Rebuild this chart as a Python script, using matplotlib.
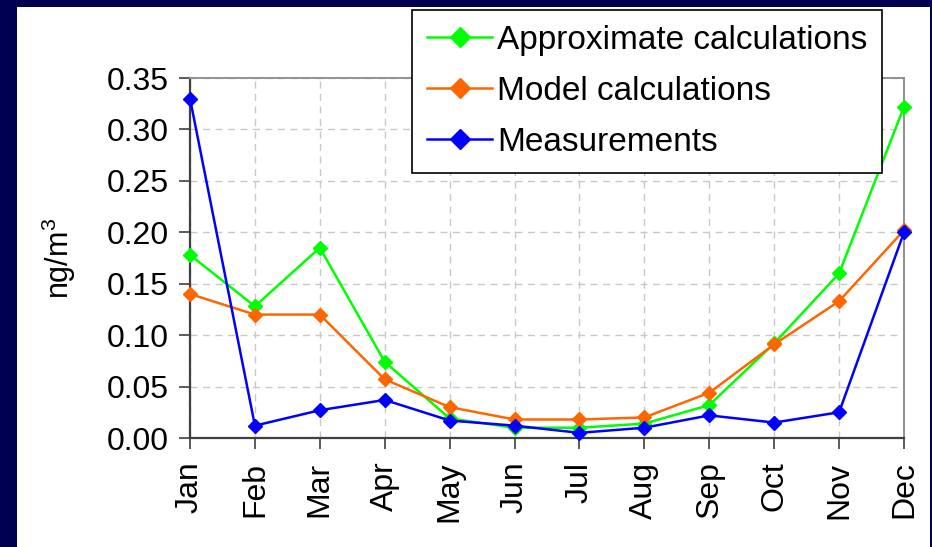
import matplotlib.pyplot as plt
from matplotlib.patches import Rectangle

months = ['Jan', 'Feb', 'Mar', 'Apr', 'May', 'Jun', 'Jul', 'Aug', 'Sep', 'Oct', 'Nov', 'Dec']
approx = [0.178, 0.128, 0.185, 0.074, 0.019, 0.010, 0.010, 0.014, 0.032, 0.092, 0.160, 0.322]
model = [0.140, 0.120, 0.120, 0.057, 0.030, 0.018, 0.018, 0.020, 0.044, 0.091, 0.133, 0.202]
measured = [0.330, 0.012, 0.027, 0.037, 0.017, 0.012, 0.005, 0.010, 0.022, 0.015, 0.025, 0.200]

plt.rcParams['font.family'] = ['Liberation Sans', 'DejaVu Sans']
plt.rcParams['mathtext.fontset'] = 'custom'
plt.rcParams['mathtext.rm'] = 'Liberation Sans'

fig = plt.figure(figsize=(9.32, 5.47), dpi=100, facecolor='#000050')
# white slide panel behind everything
fig.patches.append(Rectangle((17 / 932, 0), (930 - 17) / 932, 1 - 7 / 547,
                             transform=fig.transFigure, facecolor='white',
                             edgecolor='none', zorder=-10))

ax = fig.add_axes([190 / 932, 1 - 438 / 547, (904 - 190) / 932, (438 - 78) / 547])
ax.set_facecolor('white')

x = range(len(months))
ax.plot(x, approx, color='#00ff00', marker='D', markersize=7.5, lw=1.8,
        label='Approximate calculations', clip_on=False, zorder=3)
ax.plot(x, model, color='#ff6600', marker='D', markersize=7.5, lw=1.8,
        label='Model calculations', clip_on=False, zorder=4)
ax.plot(x, measured, color='#0000ff', marker='D', markersize=7.5, lw=1.8,
        label='Measurements', clip_on=False, zorder=5)

ax.set_xlim(0, 11)
ax.set_ylim(0, 0.35)
ax.set_yticks([i * 0.05 for i in range(8)])
ax.set_yticklabels([f'{i * 0.05:.2f}' for i in range(8)])
ax.set_xticks(list(x))
ax.set_xticklabels(months, rotation=90)
ax.tick_params(axis='both', labelsize=23, direction='out', length=8,
               width=1.2, color='#404040')
ax.tick_params(axis='y', pad=7)
ax.tick_params(axis='x', pad=9)
ax.grid(True, linestyle=(0, (5, 4)), color='#c8c8c8', lw=1)
ax.set_axisbelow(True)

for side in ['left', 'bottom']:
    ax.spines[side].set_color('#404040')
    ax.spines[side].set_linewidth(1.6)
for side in ['top', 'right']:
    ax.spines[side].set_color('#909090')
    ax.spines[side].set_linewidth(1.4)

ax.set_ylabel('ng/m$^3$', fontsize=22)
ax.yaxis.set_label_coords(-0.157, 0.5)

leg = fig.legend(loc='upper left', bbox_to_anchor=(412 / 932, 1 - 10 / 547),
                 fontsize=24, frameon=True, fancybox=False, handlelength=1.95,
                 borderpad=0.45, labelspacing=0.6, handletextpad=0.15,
                 borderaxespad=0, markerscale=1.3)
leg.get_frame().set_edgecolor('black')
leg.get_frame().set_linewidth(1.2)
leg.get_frame().set_alpha(1)
leg.set_zorder(10)

fig.savefig('out.png', dpi=100, facecolor=fig.get_facecolor())
